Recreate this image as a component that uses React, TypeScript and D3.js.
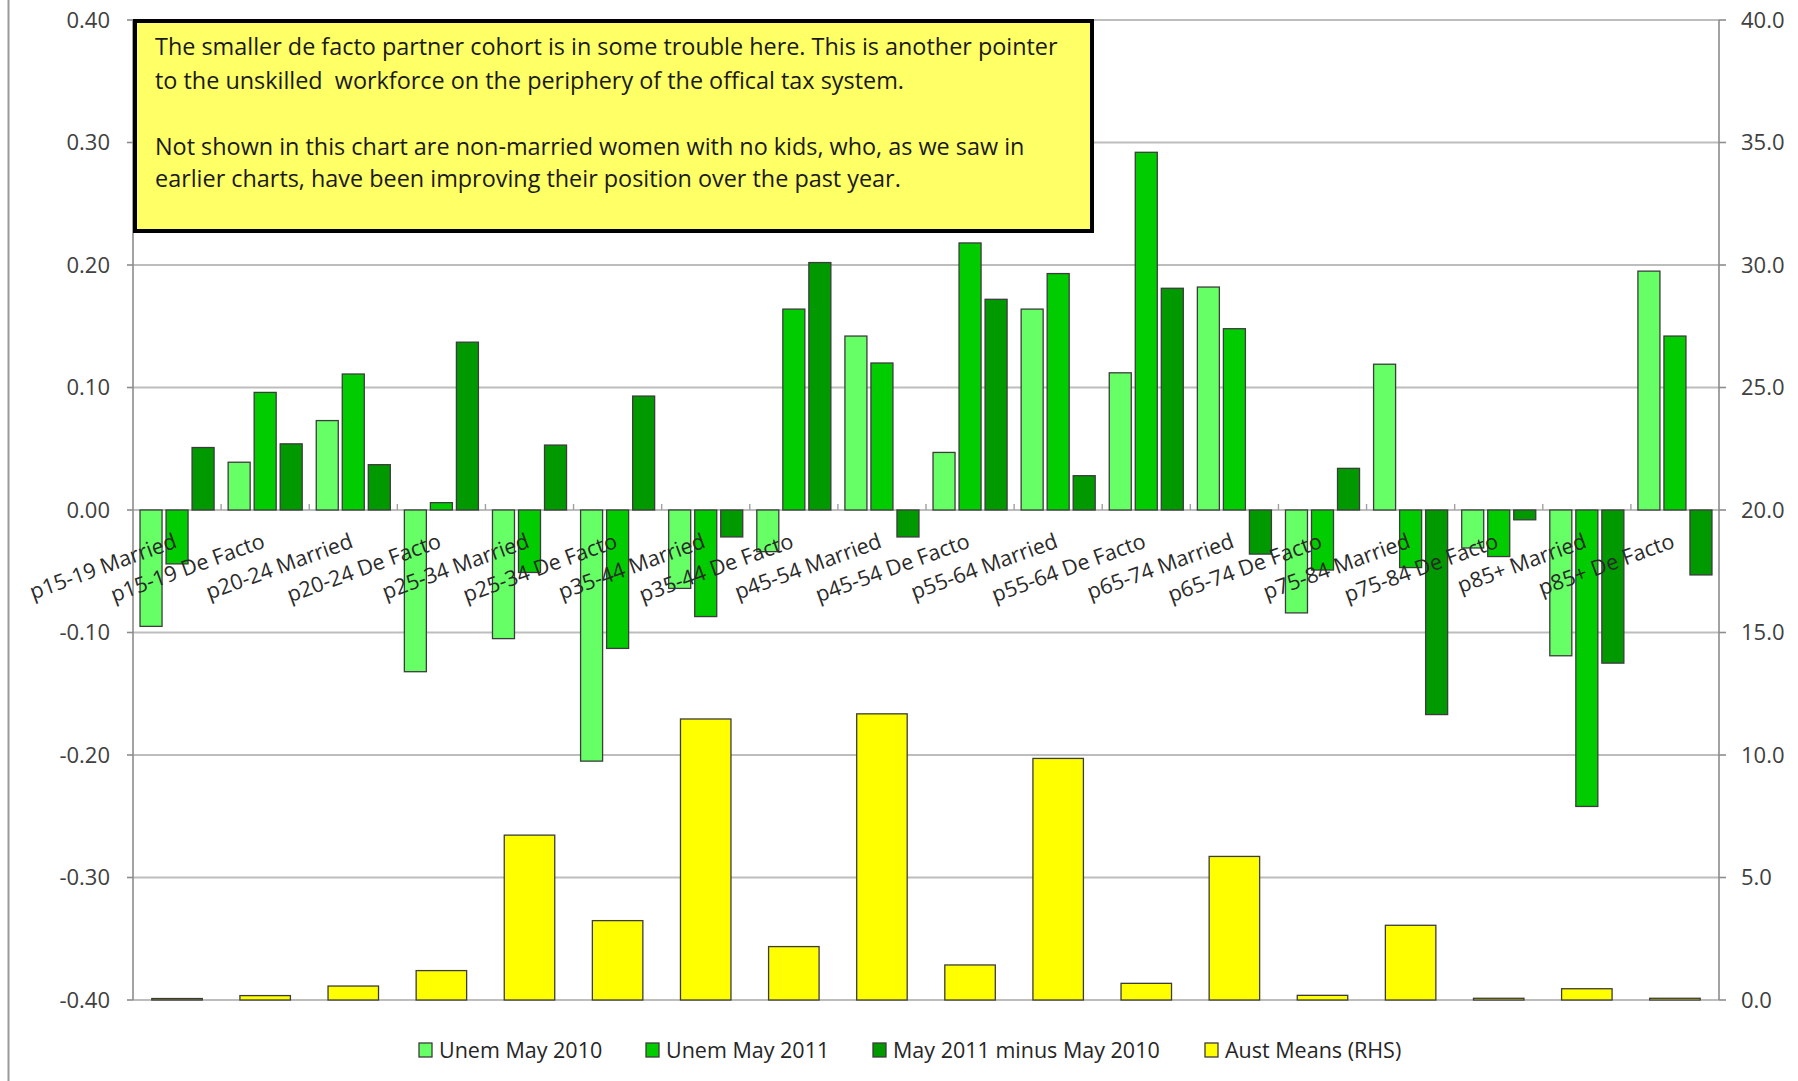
import React from "react";
import * as d3 from "d3";

// Category labels along the x axis
const categories = [
  "p15-19 Married", "p15-19 De Facto", "p20-24 Married", "p20-24 De Facto",
  "p25-34 Married", "p25-34 De Facto", "p35-44 Married", "p35-44 De Facto",
  "p45-54 Married", "p45-54 De Facto", "p55-64 Married", "p55-64 De Facto",
  "p65-74 Married", "p65-74 De Facto", "p75-84 Married", "p75-84 De Facto",
  "p85+ Married", "p85+ De Facto",
];

// Left-hand axis series
const unemMay2010 = [
  -0.095, 0.039, 0.073, -0.132, -0.105, -0.205, -0.064, -0.034, 0.142,
  0.047, 0.164, 0.112, 0.182, -0.084, 0.119, -0.031, -0.119, 0.195,
];
const unemMay2011 = [
  -0.044, 0.096, 0.111, 0.006, -0.051, -0.113, -0.087, 0.164, 0.120,
  0.218, 0.193, 0.292, 0.148, -0.049, -0.047, -0.038, -0.242, 0.142,
];
const may2011minus2010 = [
  0.051, 0.054, 0.037, 0.137, 0.053, 0.093, -0.022, 0.202, -0.022,
  0.172, 0.028, 0.181, -0.036, 0.034, -0.167, -0.008, -0.125, -0.053,
];

// Right-hand axis series
const austMeans = [
  0.06, 0.18, 0.57, 1.2, 6.73, 3.24, 11.47, 2.18, 11.68,
  1.43, 9.86, 0.68, 5.86, 0.19, 3.05, 0.07, 0.46, 0.07,
];

const leftTicks = [-0.4, -0.3, -0.2, -0.1, 0, 0.1, 0.2, 0.3, 0.4];
const rightTicks = [0, 5, 10, 15, 20, 25, 30, 35, 40];

const seriesNames = ["Unem May 2010", "Unem May 2011", "May 2011 minus May 2010", "Aust Means (RHS)"];
const seriesColors = ["#66FF66", "#00CC00", "#009900", "#FFFF00"];

const noteLines = [
  "The smaller de facto partner cohort is in some trouble here. This is another pointer",
  "to the unskilled  workforce on the periphery of the offical tax system.",
  "Not shown in this chart are non-married women with no kids, who, as we saw in",
  "earlier charts, have been improving their position over the past year.",
];

const W = 1798;
const H = 1081;
const plot = { left: 133, right: 1719, top: 20, bottom: 1000 };
const FONT = "'Open Sans', 'Noto Sans', sans-serif";

export default function App() {
  const x0 = d3.scaleBand<string>().domain(categories).range([plot.left, plot.right]);
  const greenKeys = ["a", "b", "c"];
  const x1 = d3
    .scaleBand<string>()
    .domain(greenKeys)
    .range([0, x0.bandwidth()])
    .paddingInner(0.154)
    .paddingOuter(0.27);
  const xR = d3
    .scaleBand<string>()
    .domain(categories)
    .range([plot.left, plot.right])
    .paddingInner(0.427)
    .paddingOuter(0.2135);

  const yL = d3.scaleLinear().domain([-0.4, 0.4]).range([plot.bottom, plot.top]);
  const yR = d3.scaleLinear().domain([0, 40]).range([plot.bottom, plot.top]);

  const greenSeries = [unemMay2010, unemMay2011, may2011minus2010];
  const y0 = yL(0);

  const legendX = [419, 646, 873, 1205];

  return (
    <svg
      width={W}
      height={H}
      viewBox={`0 0 ${W} ${H}`}
      style={{ position: "absolute", left: 0, top: 0, background: "#fff" }}
      fontFamily={FONT}
    >
      <rect x={0} y={0} width={W} height={H} fill="#ffffff" />
      {/* chart area frame edge */}
      <line x1={8.5} x2={8.5} y1={0} y2={H} stroke="#9a9a9a" strokeWidth={2} />

      {/* horizontal gridlines */}
      {leftTicks.map((t) => (
        <line
          key={"g" + t}
          x1={plot.left}
          x2={plot.right}
          y1={yL(t)}
          y2={yL(t)}
          stroke="#bdbdbd"
          strokeWidth={2}
        />
      ))}

      {/* axis lines */}
      <line x1={plot.left} x2={plot.left} y1={plot.top} y2={plot.bottom} stroke="#8c8c8c" strokeWidth={1.6} />
      <line x1={plot.right} x2={plot.right} y1={plot.top} y2={plot.bottom} stroke="#8c8c8c" strokeWidth={1.6} />
      {leftTicks.map((t) => (
        <line key={"lt" + t} x1={plot.left - 6} x2={plot.left} y1={yL(t)} y2={yL(t)} stroke="#8c8c8c" strokeWidth={1.6} />
      ))}
      {rightTicks.map((t) => (
        <line key={"rt" + t} x1={plot.right} x2={plot.right + 7} y1={yR(t)} y2={yR(t)} stroke="#8c8c8c" strokeWidth={1.6} />
      ))}
      {/* category tick marks on the zero line */}
      {categories.map((c, i) =>
        i === 0 ? null : (
          <line key={"ct" + c} x1={x0(c)} x2={x0(c)} y1={y0 - 6} y2={y0} stroke="#a0a0a0" strokeWidth={1.4} />
        )
      )}

      {/* green bars on the left axis */}
      {greenSeries.map((vals, si) =>
        vals.map((v, i) => {
          const c = categories[i];
          const x = (x0(c) ?? 0) + (x1(greenKeys[si]) ?? 0);
          const yTop = Math.min(yL(v), y0);
          const h = Math.abs(yL(v) - y0);
          return (
            <rect
              key={`s${si}-${i}`}
              x={x}
              y={yTop}
              width={x1.bandwidth()}
              height={h}
              fill={seriesColors[si]}
              stroke="#3c3c3c"
              strokeWidth={1.3}
            />
          );
        })
      )}

      {/* yellow bars on the right axis */}
      {austMeans.map((v, i) => {
        const c = categories[i];
        return (
          <rect
            key={"am" + i}
            x={xR(c)}
            y={yR(v)}
            width={xR.bandwidth()}
            height={yR(0) - yR(v)}
            fill={seriesColors[3]}
            stroke="#3c3c3c"
            strokeWidth={1.3}
          />
        );
      })}

      {/* left tick labels */}
      {leftTicks.map((t) => (
        <text
          key={"ll" + t}
          x={110}
          y={yL(t)}
          dy="0.36em"
          textAnchor="end"
          fontSize={22}
          fill="#404040"
        >
          {t.toFixed(2)}
        </text>
      ))}
      {/* right tick labels */}
      {rightTicks.map((t) => (
        <text key={"rl" + t} x={1741} y={yR(t)} dy="0.36em" textAnchor="start" fontSize={22} fill="#404040">
          {t.toFixed(1)}
        </text>
      ))}

      {/* rotated category labels */}
      {categories.map((c) => {
        const cx = (x0(c) ?? 0) + x0.bandwidth() / 2;
        return (
          <text
            key={"cl" + c}
            transform={`translate(${cx + 1},${y0 + 37}) rotate(-20)`}
            textAnchor="end"
            fontSize={21.5}
            fill="#2a2a2a"
          >
            {c}
          </text>
        );
      })}

      {/* annotation box */}
      <rect x={135} y={21} width={957} height={210} fill="#FFFF66" stroke="#000" strokeWidth={4} />
      {noteLines.map((line, i) => (
        <text
          key={"n" + i}
          x={155}
          y={[55, 89, 155, 187][i]}
          fontSize={23.4}
          fill="#1a1a1a"
          style={{ whiteSpace: "pre" }}
        >
          {line}
        </text>
      ))}

      {/* legend */}
      {seriesNames.map((name, i) => (
        <g key={"lg" + i}>
          <rect x={legendX[i]} y={1043} width={13} height={14} fill={seriesColors[i]} stroke="#3c3c3c" strokeWidth={1.3} />
          <text x={legendX[i] + 20} y={1050} dy="0.36em" fontSize={21.5} fill="#262626">
            {name}
          </text>
        </g>
      ))}
    </svg>
  );
}
